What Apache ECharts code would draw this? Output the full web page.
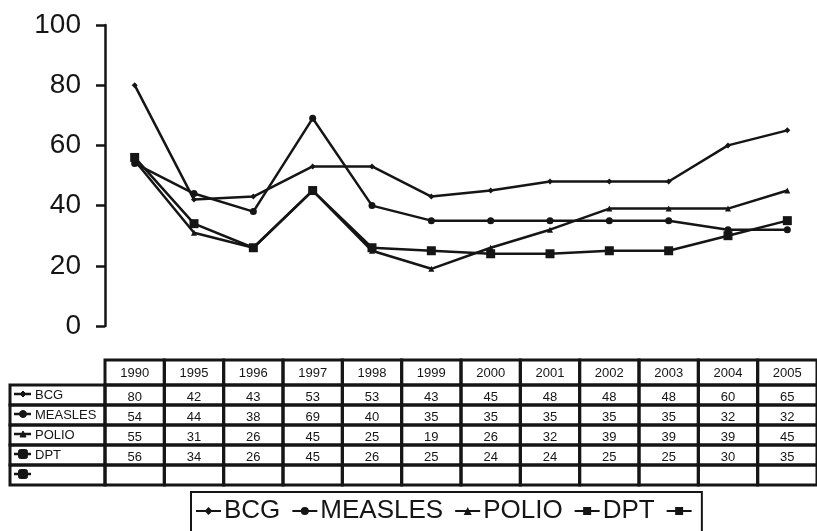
<!DOCTYPE html>
<html>
<head>
<meta charset="utf-8">
<script src="https://cdn.jsdelivr.net/npm/echarts@6/dist/echarts.min.js"></script>
<style>
  html, body { margin: 0; padding: 0; background: #fff; }
  #chart { width: 817px; height: 531px; }
</style>
</head>
<body>
<div id="chart"></div>
<script>
// Immunisation coverage (%) by year
const years = ['1990', '1995', '1996', '1997', '1998', '1999', '2000', '2001', '2002', '2003', '2004', '2005'];
const bcg     = [80, 42, 43, 53, 53, 43, 45, 48, 48, 48, 60, 65];
const measles = [54, 44, 38, 69, 40, 35, 35, 35, 35, 35, 32, 32];
const polio   = [55, 31, 26, 45, 25, 19, 26, 32, 39, 39, 39, 45];
const dpt     = [56, 34, 26, 45, 26, 25, 24, 24, 25, 25, 30, 35];
const blank   = [];
const rowNames = ['BCG', 'MEASLES', 'POLIO', 'DPT', ' '];
const yTicks = { min: 0, max: 100, step: 20 };

const INK = '#151515';
const FONT = '"Liberation Sans", Arial, sans-serif';
const markers = [
  { symbol: 'diamond', size: 6 },
  { symbol: 'circle', size: 7 },
  { symbol: 'triangle', size: 6 },
  { symbol: 'rect', size: 9 },
  { symbol: 'rect', size: 9 }
];
const rows = [bcg, measles, polio, dpt, blank];

// cells of the data table under the plot
const HEAD_H = 25;
const LABEL_W = 95;
const tableData = [];
years.forEach((y, c) => tableData.push({ value: [c, 0], kind: 'head', text: y }));
rows.forEach((vals, r) => {
  tableData.push({ value: [0, r], kind: 'label', text: rowNames[r], row: r });
  years.forEach((y, c) => tableData.push({
    value: [c, r], kind: 'cell', text: vals[c] != null ? String(vals[c]) : ''
  }));
});

function markerShape(row, cx, cy) {
  const m = markers[row];
  const s = m.size / 2;
  const st = { fill: INK, stroke: INK, lineWidth: 1 };
  if (m.symbol === 'circle') return { type: 'circle', shape: { cx, cy, r: s }, style: st };
  if (m.symbol === 'rect') return { type: 'rect', shape: { x: cx - s, y: cy - s, width: 2 * s, height: 2 * s, r: 2 }, style: st };
  if (m.symbol === 'diamond') return { type: 'polygon', shape: { points: [[cx, cy - s], [cx + s, cy], [cx, cy + s], [cx - s, cy]] }, style: st };
  return { type: 'polygon', shape: { points: [[cx, cy - s], [cx + s, cy + s], [cx - s, cy + s]] }, style: st };
}

function renderCell(params, api) {
  const d = tableData[params.dataIndex];
  const p = api.coord([api.value(0), api.value(1)]);
  const sz = api.size([1, 1]);
  const w = sz[0], h = sz[1];
  const box = { fill: 'rgba(0,0,0,0)', stroke: INK, lineWidth: 3 };
  const txt = (text, x, y, align) => ({
    type: 'text',
    style: { text, x, y, align, verticalAlign: 'middle', fontSize: 13, fontFamily: FONT, fill: INK }
  });
  if (d.kind === 'head') {
    const y = p[1] - h / 2 - HEAD_H;
    return { type: 'group', children: [
      { type: 'rect', shape: { x: p[0] - w / 2, y, width: w, height: HEAD_H }, style: box },
      txt(d.text, p[0], y + HEAD_H / 2 + 1, 'center')
    ] };
  }
  if (d.kind === 'label') {
    const x = p[0] - w / 2 - LABEL_W;
    return { type: 'group', children: [
      { type: 'rect', shape: { x, y: p[1] - h / 2, width: LABEL_W, height: h }, style: box },
      { type: 'line', shape: { x1: x + 4, y1: p[1] - 1, x2: x + 21, y2: p[1] - 1 }, style: { stroke: INK, lineWidth: 2.5 } },
      markerShape(d.row, x + 13, p[1] - 1),
      txt(d.text, x + 25, p[1], 'left')
    ] };
  }
  return { type: 'group', children: [
    { type: 'rect', shape: { x: p[0] - w / 2, y: p[1] - h / 2, width: w, height: h }, style: box },
    txt(d.text, p[0], p[1] + 2, 'center')
  ] };
}

const lineSeries = rows.map((vals, i) => ({
  name: rowNames[i],
  type: 'line',
  xAxisIndex: 0,
  yAxisIndex: 0,
  data: vals,
  symbol: markers[i].symbol,
  symbolSize: markers[i].size,
  showSymbol: true,
  lineStyle: { color: INK, width: 2.5 },
  itemStyle: { color: INK },
  emphasis: { disabled: true },
  animation: false,
  z: 3
}));

const chart = echarts.init(document.getElementById('chart'), null, { renderer: 'canvas' });
chart.setOption({
  backgroundColor: '#fff',
  animation: false,
  grid: [
    { left: 105, width: 720, top: 25, height: 301 },
    { left: 105, width: 720, top: 385, height: 100 }
  ],
  xAxis: [
    { gridIndex: 0, type: 'category', data: years, boundaryGap: true, show: false },
    { gridIndex: 1, type: 'category', data: years, boundaryGap: true, show: false }
  ],
  yAxis: [
    {
      gridIndex: 0, type: 'value', min: yTicks.min, max: yTicks.max, interval: yTicks.step,
      axisLine: { show: true, lineStyle: { color: INK, width: 2.5 } },
      axisTick: { show: true, length: 9, lineStyle: { color: INK, width: 2.5 } },
      splitLine: { show: false },
      axisLabel: { color: INK, fontSize: 28, fontFamily: FONT, margin: 24 }
    },
    { gridIndex: 1, type: 'category', data: rowNames, inverse: true, show: false }
  ],
  legend: {
    data: rowNames,
    left: 191,
    top: 492,
    orient: 'horizontal',
    itemGap: 11,
    itemWidth: 25,
    itemHeight: 10,
    padding: [6, 0, 14, 4],
    borderColor: INK,
    borderWidth: 2,
    borderRadius: 0,
    selectedMode: false,
    textStyle: { fontSize: 26, fontFamily: FONT, color: INK, padding: [0, 0, 0, -2] }
  },
  series: lineSeries.concat([{
    type: 'custom',
    xAxisIndex: 1,
    yAxisIndex: 1,
    data: tableData.map(d => d.value),
    renderItem: renderCell,
    silent: true,
    animation: false
  }])
});
</script>
</body>
</html>
